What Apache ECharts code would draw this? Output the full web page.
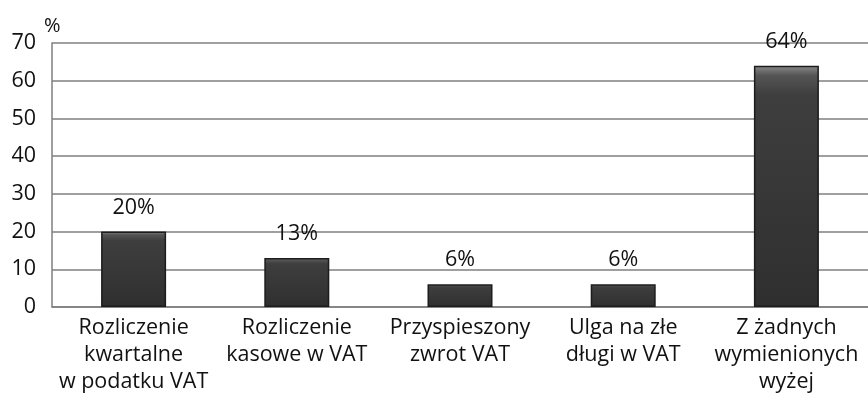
<!DOCTYPE html>
<html>
<head>
<meta charset="utf-8">
<script src="https://cdn.jsdelivr.net/npm/echarts@6/dist/echarts.min.js"></script>
<style>
  body { margin: 0; padding: 0; background: #fff; }
  #chart { width: 868px; height: 415px; }
</style>
</head>
<body>
<div id="chart"></div>
<script>
// kategorie i wartości
const categories = [
  "Rozliczenie\nkwartalne\nw podatku VAT",
  "Rozliczenie\nkasowe w VAT",
  "Przyspieszony\nzwrot VAT",
  "Ulga na złe\ndługi w VAT",
  "Z żadnych\nwymienionych\nwyżej"
];
const values = [20, 13, 6, 6, 64];
const yTicks = { min: 0, max: 70, interval: 10 };

const font = "'Open Sans', sans-serif";

let chart = echarts.init(document.getElementById("chart"));
chart.setOption({
  animation: false,
  grid: { left: 52, right: 0, top: 43, bottom: 108 },
  xAxis: {
    type: "category",
    data: categories,
    axisLine: { show: true, lineStyle: { color: "#7f7f7f", width: 1.5 } },
    axisTick: { show: false },
    axisLabel: {
      interval: 0,
      margin: 7,
      color: "#111",
      fontFamily: font,
      fontSize: 21.5,
      lineHeight: 27
    }
  },
  yAxis: {
    type: "value",
    min: yTicks.min,
    max: yTicks.max,
    interval: yTicks.interval,
    name: "%",
    nameLocation: "end",
    nameGap: 7,
    nameTextStyle: { color: "#111", fontFamily: font, fontSize: 20, align: "left", padding: [0, 0, 0, -8] },
    axisLine: { show: true, lineStyle: { color: "#7f7f7f", width: 1.5 } },
    axisTick: { show: false },
    splitLine: { show: true, lineStyle: { color: "#7f7f7f", width: 1.5 } },
    axisLabel: {
      margin: 16,
      color: "#111",
      fontFamily: font,
      fontSize: 21.5
    }
  },
  series: [
    {
      type: "bar",
      data: values,
      barWidth: 65,
      itemStyle: {
        color: new echarts.graphic.LinearGradient(0, 0, 0, 1, [
          { offset: 0, color: "#8c8c8c" },
          { offset: 0.04, color: "#555555" },
          { offset: 0.12, color: "#3e3e3e" },
          { offset: 1, color: "#2f2f2f" }
        ]),
        borderColor: "#1c1c1c",
        borderWidth: 1.5
      },
      label: {
        show: true,
        position: "top",
        distance: 13,
        formatter: "{c}%",
        color: "#111",
        fontFamily: font,
        fontSize: 21.5
      }
    }
  ]
});
</script>
</body>
</html>
